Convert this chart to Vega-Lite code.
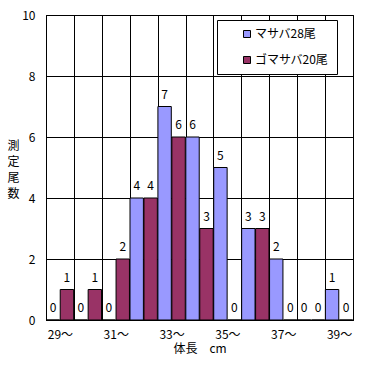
{
  "$schema": "https://vega.github.io/schema/vega-lite/v6.json",
  "autosize": {"type": "none"},
  "width": 307,
  "height": 305,
  "padding": {"left": 46, "top": 15, "right": 18, "bottom": 45},
  "background": "white",
  "config": {
    "font": "Noto Sans CJK JP",
    "view": {"stroke": "black", "strokeWidth": 1},
    "axis": {"labelFont": "Noto Sans CJK JP", "titleFont": "Noto Sans CJK JP", "labelColor": "black", "titleColor": "black"}
  },
  "data": {
    "values": [
      {"len": 29, "species": "マサバ28尾", "count": 0}, {"len": 29, "species": "ゴマサバ20尾", "count": 1},
      {"len": 30, "species": "マサバ28尾", "count": 0}, {"len": 30, "species": "ゴマサバ20尾", "count": 1},
      {"len": 31, "species": "マサバ28尾", "count": 0}, {"len": 31, "species": "ゴマサバ20尾", "count": 2},
      {"len": 32, "species": "マサバ28尾", "count": 4}, {"len": 32, "species": "ゴマサバ20尾", "count": 4},
      {"len": 33, "species": "マサバ28尾", "count": 7}, {"len": 33, "species": "ゴマサバ20尾", "count": 6},
      {"len": 34, "species": "マサバ28尾", "count": 6}, {"len": 34, "species": "ゴマサバ20尾", "count": 3},
      {"len": 35, "species": "マサバ28尾", "count": 5}, {"len": 35, "species": "ゴマサバ20尾", "count": 0},
      {"len": 36, "species": "マサバ28尾", "count": 3}, {"len": 36, "species": "ゴマサバ20尾", "count": 3},
      {"len": 37, "species": "マサバ28尾", "count": 2}, {"len": 37, "species": "ゴマサバ20尾", "count": 0},
      {"len": 38, "species": "マサバ28尾", "count": 0}, {"len": 38, "species": "ゴマサバ20尾", "count": 0},
      {"len": 39, "species": "マサバ28尾", "count": 1}, {"len": 39, "species": "ゴマサバ20尾", "count": 0}
    ]
  },
  "encoding": {
    "x": {
      "field": "len", "type": "ordinal",
      "scale": {"paddingInner": 0, "paddingOuter": 0},
      "axis": {
        "title": "体長　cm", "titleFontSize": 12, "titleFontWeight": "normal", "titlePadding": 3,
        "labelAngle": 0, "labelFontSize": 12, "labelPadding": 9,
        "labelExpr": "datum.value % 2 == 1 ? datum.value + '〜' : ''",
        "ticks": false, "domainColor": "black",
        "grid": true, "gridColor": "black", "gridOpacity": 1, "tickBand": "extent"
      }
    },
    "xOffset": {"field": "species", "type": "nominal", "sort": ["マサバ28尾", "ゴマサバ20尾"], "scale": {"paddingInner": 0.04, "paddingOuter": 0.02}},
    "y": {
      "field": "count", "type": "quantitative",
      "scale": {"domain": [0, 10]},
      "axis": {
        "values": [0, 2, 4, 6, 8, 10], "ticks": false, "labelFontSize": 12, "labelPadding": 11,
        "domainColor": "black", "grid": true, "gridColor": "black", "gridOpacity": 1,
        "title": ["測", "定", "尾", "数"], "titleAngle": 0, "titleFontSize": 12, "titleFontWeight": "normal",
        "titleLineHeight": 16, "titleAlign": "center", "titleBaseline": "top", "titleX": -33, "titleY": 125
      }
    }
  },
  "layer": [
    {
      "mark": {"type": "bar", "stroke": "black", "strokeWidth": 1},
      "encoding": {
        "color": {
          "field": "species", "type": "nominal",
          "scale": {"domain": ["マサバ28尾", "ゴマサバ20尾"], "range": ["#9999FF", "#993366"]},
          "legend": {
            "title": null, "orient": "none", "legendX": 171, "legendY": 5,
            "direction": "vertical",
            "fillColor": "white", "strokeColor": "black", "padding": 8,
            "symbolType": "square", "symbolSize": 49, "symbolStrokeColor": "black", "symbolStrokeWidth": 1, "symbolOpacity": 1,
            "symbolOffset": 16,
            "labelExpr": "datum.label + '\u00a0\u00a0\u00a0\u00a0'",
            "labelFontSize": 12, "labelColor": "black", "labelOffset": 2, "rowPadding": 14
          }
        }
      }
    },
    {
      "mark": {"type": "text", "baseline": "bottom", "dy": -5, "fontSize": 12, "color": "black"},
      "encoding": {"text": {"field": "count", "type": "quantitative"}}
    }
  ]
}
